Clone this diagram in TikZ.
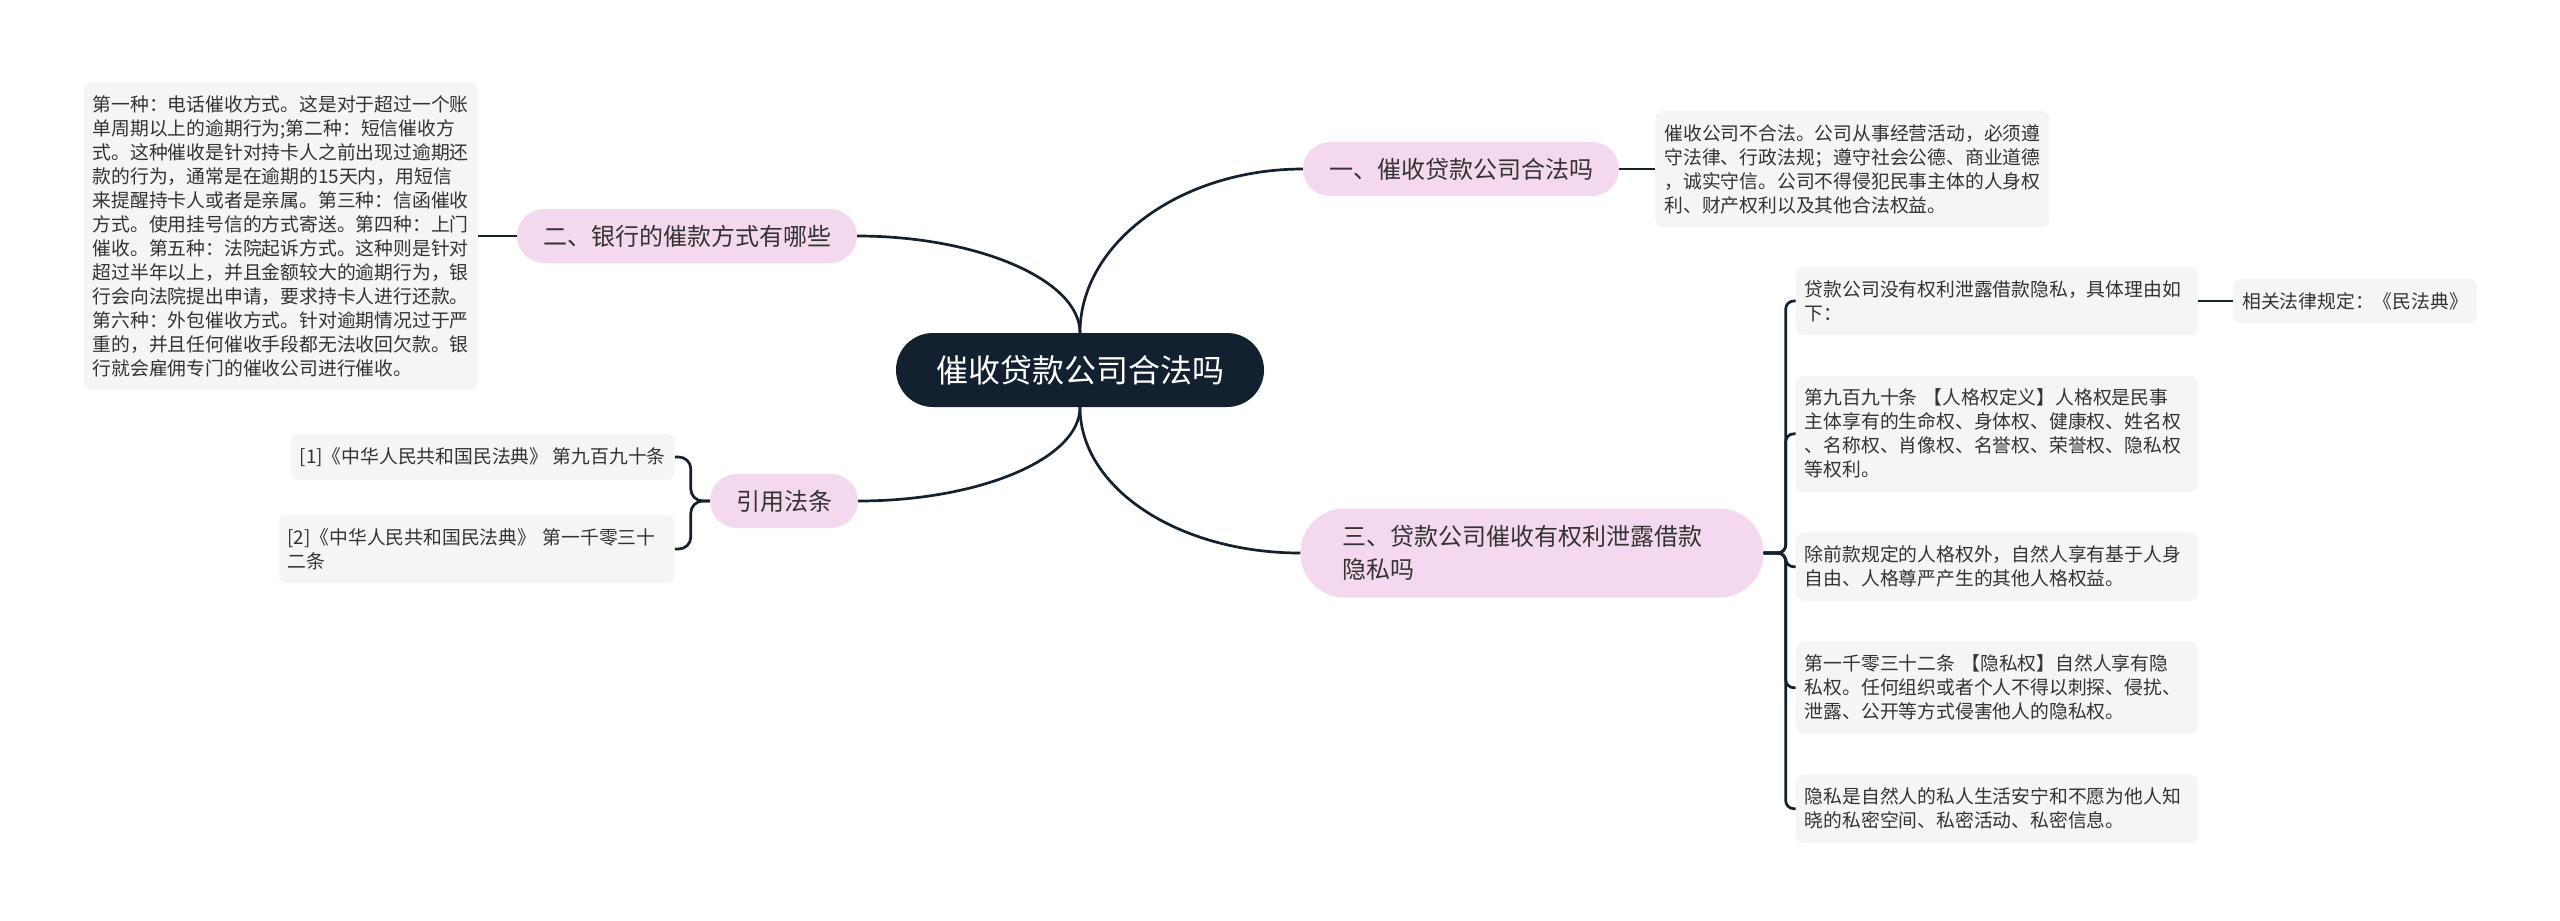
\documentclass[tikz,border=0pt]{standalone}
\usepackage{fontspec}
\setmainfont{Noto Sans CJK SC}
\usepackage{tikz}
\usetikzlibrary{positioning}
\definecolor{RootNavy}{HTML}{13202F}
\definecolor{BranchPink}{HTML}{F4D9EE}
\definecolor{LeafGray}{HTML}{F5F5F5}
\definecolor{TextGray}{HTML}{333333}

\begin{document}
\begin{tikzpicture}[
  x=1pt, y=-1pt,
  root/.style={fill=RootNavy, text=white, rounded corners=37pt, minimum width=368pt, minimum height=74pt, font=\fontsize{32pt}{38pt}\selectfont},
  branch/.style={fill=BranchPink, text=TextGray, rounded corners=27pt, minimum height=54pt, inner xsep=26pt, inner ysep=14pt, align=left, font=\fontsize{24pt}{33pt}\selectfont},
  leaf/.style={fill=LeafGray, text=TextGray, rounded corners=8pt, inner xsep=9pt, inner ysep=13.5pt, align=left, font=\fontsize{18.8pt}{24pt}\selectfont},
  rleaf/.style={leaf, text width=384pt},
  link/.style={draw=RootNavy, line width=2.7pt}
]
\path[use as bounding box, fill=white] (0,0) rectangle (2560,921);

\node[root] (root) at (1080,370) {催收贷款公司合法吗};
\node[branch] (b1) at (1461,169) {一、催收贷款公司合法吗};
\node[branch] (b2) at (687,236) {二、银行的催款方式有哪些};
\node[branch] (cite) at (784,501) {引用法条};
\node[branch, text width=380pt, inner xsep=41.5pt, minimum height=89pt, rounded corners=44pt] (b3) at (1532,553) {三、贷款公司催收有权利泄露借款\\隐私吗};

\node[leaf, right=36pt of b1] (l1) {催收公司不合法。公司从事经营活动，必须遵\\守法律、行政法规；遵守社会公德、商业道德\\，诚实守信。公司不得侵犯民事主体的人身权\\利、财产权利以及其他合法权益。};
\node[leaf, left=39pt of b2] (l0) {第一种：电话催收方式。这是对于超过一个账\\单周期以上的逾期行为;第二种：短信催收方\\式。这种催收是针对持卡人之前出现过逾期还\\款的行为，通常是在逾期的15天内，用短信\\来提醒持卡人或者是亲属。第三种：信函催收\\方式。使用挂号信的方式寄送。第四种：上门\\催收。第五种：法院起诉方式。这种则是针对\\超过半年以上，并且金额较大的逾期行为，银\\行会向法院提出申请，要求持卡人进行还款。\\第六种：外包催收方式。针对逾期情况过于严\\重的，并且任何催收手段都无法收回欠款。银\\行就会雇佣专门的催收公司进行催收。};
\node[leaf, left=35pt of cite, yshift=44pt] (c1) {[1]《中华人民共和国民法典》 第九百九十条};
\node[leaf, text width=378pt, left=35pt of cite, yshift=-48pt] (c2) {[2]《中华人民共和国民法典》 第一千零三十\\二条};

\node[rleaf, right=32pt of b3, yshift=252pt] (ra) {贷款公司没有权利泄露借款隐私，具体理由如\\下：};
\node[leaf, right=35pt of ra] (sub) {相关法律规定：《民法典》};
\node[rleaf, below right=40pt and 0pt of ra.south west] (rb) {第九百九十条 【人格权定义】人格权是民事\\主体享有的生命权、身体权、健康权、姓名权\\、名称权、肖像权、名誉权、荣誉权、隐私权\\等权利。};
\node[rleaf, below right=40pt and 0pt of rb.south west] (rc) {除前款规定的人格权外，自然人享有基于人身\\自由、人格尊严产生的其他人格权益。};
\node[rleaf, below right=40pt and 0pt of rc.south west] (rd) {第一千零三十二条 【隐私权】自然人享有隐\\私权。任何组织或者个人不得以刺探、侵扰、\\泄露、公开等方式侵害他人的隐私权。};
\node[rleaf, below right=40pt and 0pt of rd.south west] (re) {隐私是自然人的私人生活安宁和不愿为他人知\\晓的私密空间、私密活动、私密信息。};

\draw[link] (root.north) .. controls +(0,-90) and +(-122,0) .. (b1.west);
\draw[link] (root.north) .. controls +(0,-53) and +(120,0) .. (b2.east);
\draw[link] (root.south) .. controls +(0,81) and +(-122,0) .. (b3.west);
\draw[link] (root.south) .. controls +(0,52) and +(120,0) .. (cite.east);
\draw[link] (b1) -- (l1);
\draw[link] (b2) -- (l0);
\draw[link] (ra) -- (sub);
\foreach \c in {c1,c2}
  \draw[link, rounded corners=12pt] (cite.west) -- ++(-19,0) |- (\c.east);
\foreach \r in {ra,rb,rc,rd,re}
  \draw[link, rounded corners=8pt] (b3.east) -- ++(22,0) |- (\r.west);
\end{tikzpicture}
\end{document}
